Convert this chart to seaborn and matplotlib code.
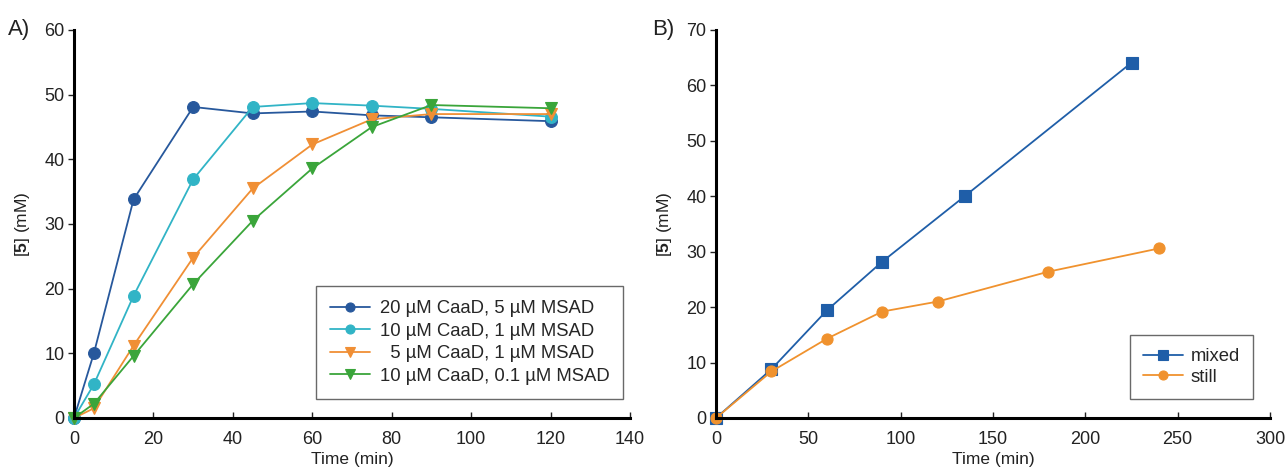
import matplotlib
matplotlib.use("Agg")
import matplotlib.pyplot as plt
import seaborn as sns
import pandas as pd

# ---- Data: panel A ----
time_a = [0, 5, 15, 30, 45, 60, 75, 90, 120]
a_20caad_5msad = [0, 10.0, 33.8, 48.1, 47.1, 47.4, 46.8, 46.5, 45.9]
a_10caad_1msad = [0, 5.2, 18.9, 36.9, 48.1, 48.7, 48.3, 47.8, 46.6]
a_5caad_1msad = [0, 1.5, 11.2, 24.8, 35.5, 42.3, 46.2, 47.0, 47.0]
a_10caad_01msad = [0, 2.2, 9.6, 20.7, 30.5, 38.6, 45.0, 48.4, 47.9]
labels_a = ["20 µM CaaD, 5 µM MSAD", "10 µM CaaD, 1 µM MSAD",
            "  5 µM CaaD, 1 µM MSAD", "10 µM CaaD, 0.1 µM MSAD"]

# ---- Data: panel B ----
time_mixed = [0, 30, 60, 90, 135, 225]
mixed = [0, 8.8, 19.4, 28.2, 40.1, 64.1]
time_still = [0, 30, 60, 90, 120, 180, 240]
still = [0, 8.4, 14.3, 19.2, 21.0, 26.4, 30.6]
labels_b = ["mixed", "still"]

xticks_a = [0, 20, 40, 60, 80, 100, 120, 140]
yticks_a = [0, 10, 20, 30, 40, 50, 60]
xticks_b = [0, 50, 100, 150, 200, 250, 300]
yticks_b = [0, 10, 20, 30, 40, 50, 60, 70]

sns.set_theme(style="white")
plt.rcParams['font.family'] = ['Liberation Sans', 'DejaVu Sans']
plt.rcParams['mathtext.fontset'] = 'custom'
plt.rcParams['mathtext.rm'] = 'Liberation Sans'
plt.rcParams['mathtext.bf'] = 'Liberation Sans:bold'

dfa = pd.concat([
    pd.DataFrame({"t": time_a, "c": v, "series": lab})
    for v, lab in zip([a_20caad_5msad, a_10caad_1msad, a_5caad_1msad, a_10caad_01msad], labels_a)
])
dfb = pd.concat([
    pd.DataFrame({"t": time_mixed, "c": mixed, "series": labels_b[0]}),
    pd.DataFrame({"t": time_still, "c": still, "series": labels_b[1]}),
])

pal_a = dict(zip(labels_a, ["#27589c", "#31b4c6", "#f08f35", "#3aa53a"]))
mk_a = dict(zip(labels_a, ["o", "o", "v", "v"]))
pal_b = dict(zip(labels_b, ["#1f5ea8", "#f0922e"]))
mk_b = dict(zip(labels_b, ["s", "o"]))

fig = plt.figure(figsize=(12.88, 4.72), dpi=100)
axA = fig.add_axes([74/1288, 54/472, (630-74)/1288, (418-30)/472])
axB = fig.add_axes([716/1288, 54/472, (1270-716)/1288, (418-30)/472])

sns.lineplot(data=dfa, x="t", y="c", hue="series", style="series", hue_order=labels_a,
             style_order=labels_a, palette=pal_a, markers=mk_a, dashes=False,
             markersize=8.5, linewidth=1.3, ax=axA, sort=False)
sns.lineplot(data=dfb, x="t", y="c", hue="series", style="series", hue_order=labels_b,
             style_order=labels_b, palette=pal_b, markers=mk_b, dashes=False,
             markersize=8, linewidth=1.3, ax=axB, sort=False)

for ax, xt, yt, xmax, ymax in [(axA, xticks_a, yticks_a, 140, 60), (axB, xticks_b, yticks_b, 300, 70)]:
    ax.set_xlim(0, xmax)
    ax.set_ylim(0, ymax)
    ax.set_xticks(xt)
    ax.set_yticks(yt)
    for s in ["top", "right"]:
        ax.spines[s].set_visible(False)
    for s in ["left", "bottom"]:
        ax.spines[s].set_linewidth(2.2)
        ax.spines[s].set_color("black")
    ax.tick_params(axis="x", direction="in", length=4, width=1, labelsize=13, pad=9, colors="#222222")
    ax.tick_params(axis="y", direction="out", length=4, width=1, labelsize=13, pad=3, colors="#222222")
    ax.tick_params(axis="x", bottom=True)
    ax.tick_params(axis="y", left=True)
    ax.set_xlabel("Time (min)", fontsize=12.5, labelpad=3, color="#222222")
    ax.set_ylabel(r"[$\mathbf{5}$] (mM)", fontsize=12.5, labelpad=9, color="#222222")
    for line in ax.lines:
        line.set_clip_on(False)
        line.set_markeredgecolor(line.get_color())
        line.set_markeredgewidth(0.8)

legA = axA.legend(loc="lower right", bbox_to_anchor=(0.988, 0.05), fontsize=13.3, frameon=True,
                  fancybox=False, edgecolor="#444444", handlelength=2.2, labelspacing=0.3,
                  borderpad=0.75, handletextpad=0.5, borderaxespad=0.0)
legB = axB.legend(loc="lower right", bbox_to_anchor=(0.969, 0.05), fontsize=13.3, frameon=True,
                  fancybox=False, edgecolor="#444444", handlelength=2.2, labelspacing=0.2,
                  borderpad=0.7, handletextpad=0.4, borderaxespad=0.0)
for leg in (legA, legB):
    leg.get_frame().set_linewidth(1.0)
    for h in leg.legend_handles:
        h.set_markeredgecolor(h.get_color())
        h.set_markersize(6.5)

fig.text(8/1288, 1 - 30/472, "A)", fontsize=16, va="center", ha="left", color="#222222")
fig.text(652/1288, 1 - 30/472, "B)", fontsize=16, va="center", ha="left", color="#222222")

fig.savefig("out.png", dpi=100, facecolor="white")
